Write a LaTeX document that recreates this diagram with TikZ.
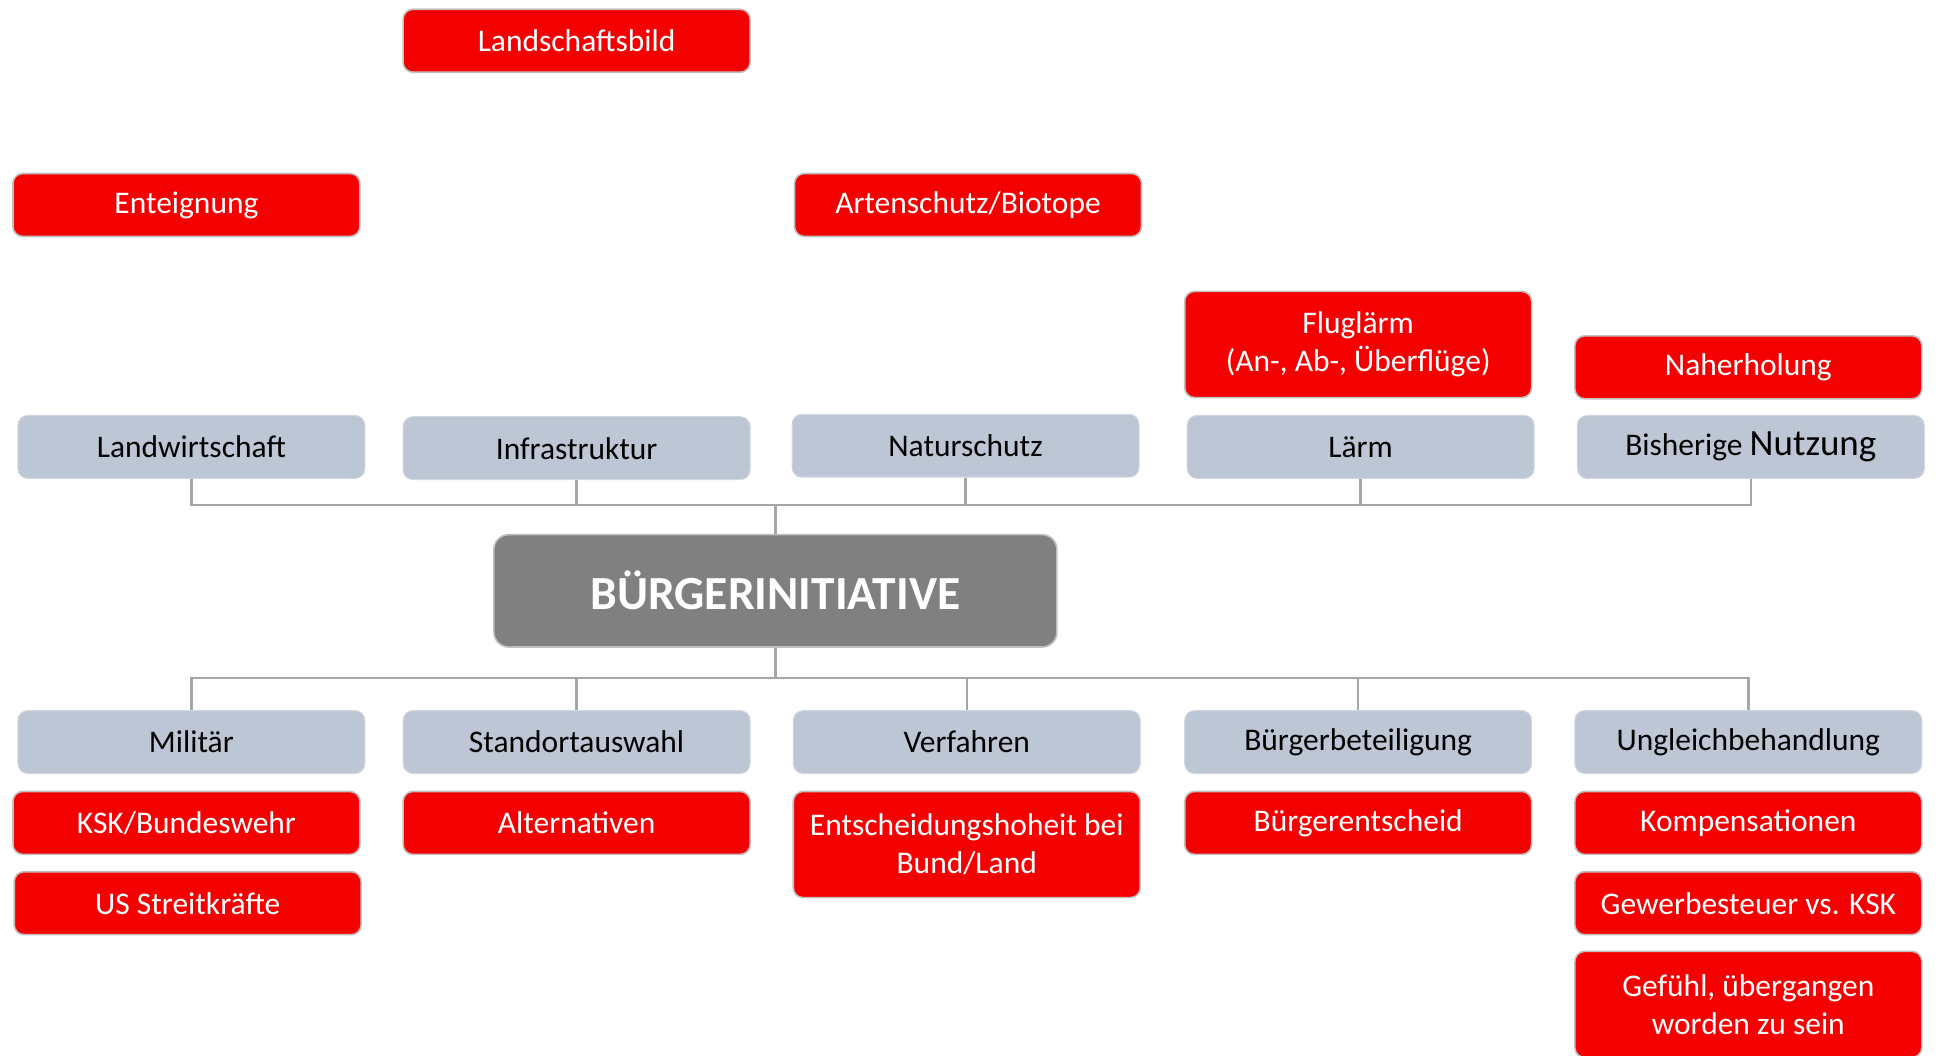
\documentclass[tikz,border=0pt]{standalone}
\usepackage{fontspec}
\setmainfont{Carlito}
\definecolor{issuered}{RGB}{245,0,0}
\definecolor{topicgrey}{RGB}{189,198,212}
\definecolor{hubgrey}{RGB}{128,128,128}
\definecolor{edgegrey}{RGB}{192,192,192}
\definecolor{linkgrey}{RGB}{166,166,166}
\begin{document}
\begin{tikzpicture}[x=1pt,y=-1pt,
  basebox/.style={rounded corners=8pt, minimum width=281pt, inner sep=0pt,
    align=center, font=\fontsize{25.5}{31}\selectfont},
  redbox/.style={basebox, fill=issuered, draw=edgegrey, line width=1.3pt,
    text=white, minimum height=51pt},
  redtall/.style={redbox, minimum height=86pt},
  topicbox/.style={basebox, fill=topicgrey, draw=topicgrey!70!white, line width=0.8pt,
    text=black, minimum height=51pt},
  hubbox/.style={rounded corners=12pt, fill=hubgrey, draw=edgegrey, line width=1.3pt,
    minimum width=456pt, minimum height=91pt, inner sep=0pt, text=white,
    font=\fontsize{38.5}{44}\selectfont\bfseries},
  link/.style={draw=linkgrey, line width=2pt}]
\useasboundingbox (0,0) rectangle (1568,855);

% central node
\node[hubbox] (hub) at (628,478.5) {BÜRGERINITIATIVE};

% upper topics
\node[topicbox] (lw)  at (155,362)  {Landwirtschaft};
\node[topicbox] (inf) at (467,363)  {Infrastruktur};
\node[topicbox] (nat) at (782,361)  {Naturschutz};
\node[topicbox] (lae) at (1102,362) {Lärm};
\node[topicbox] (nut) at (1418,362) {Bisherige {\fontsize{30}{31}\selectfont Nutzung}};

% lower topics
\node[topicbox] (mil) at (155,601)  {Militär};
\node[topicbox] (sta) at (467,601)  {Standortauswahl};
\node[topicbox] (ver) at (783,601)  {Verfahren};
\node[topicbox] (bue) at (1100,601) {Bürgerbeteiligung};
\node[topicbox] (ung) at (1416,601) {Ungleichbehandlung};

% concerns above
\node[redbox]  (lsb) at (467,33)    {Landschaftsbild};
\node[redbox]  (ent) at (151,166)   {Enteignung};
\node[redbox]  (art) at (784,166)   {Artenschutz/Biotope};
\node[redtall] (flu) at (1100,279)  {Fluglärm\\(An-, Ab-, Überflüge)};
\node[redbox]  (nah) at (1416,297.5){Naherholung};

% concerns below
\node[redbox]  (ksk) at (151,666.5) {KSK/Bundeswehr};
\node[redbox]  (us)  at (152,731.5) {US Streitkräfte};
\node[redbox]  (alt) at (467,666.5) {Alternativen};
\node[redtall] (esh) at (783,684)   {Entscheidungshoheit bei\\Bund/Land};
\node[redbox]  (bes) at (1100,666.5){Bürgerentscheid};
\node[redbox]  (kom) at (1416,666.5){Kompensationen};
\node[redbox]  (gew) at (1416,731.5){Gewerbesteuer vs. KSK};
\node[redtall] (gef) at (1416,813.5){Gefühl, übergangen\\worden zu sein};

% bus lines
\coordinate (topbus) at (628,409);
\coordinate (botbus) at (628,549);

\foreach \n in {lw,inf,nat,lae,nut}
  \draw[link] (\n.south) |- (topbus);
\draw[link] (topbus) -- (hub.north);

\draw[link] (hub.south) -- (botbus);
\foreach \n in {mil,sta,ver,bue,ung}
  \draw[link] (botbus) -| (\n.north);
\end{tikzpicture}
\end{document}
